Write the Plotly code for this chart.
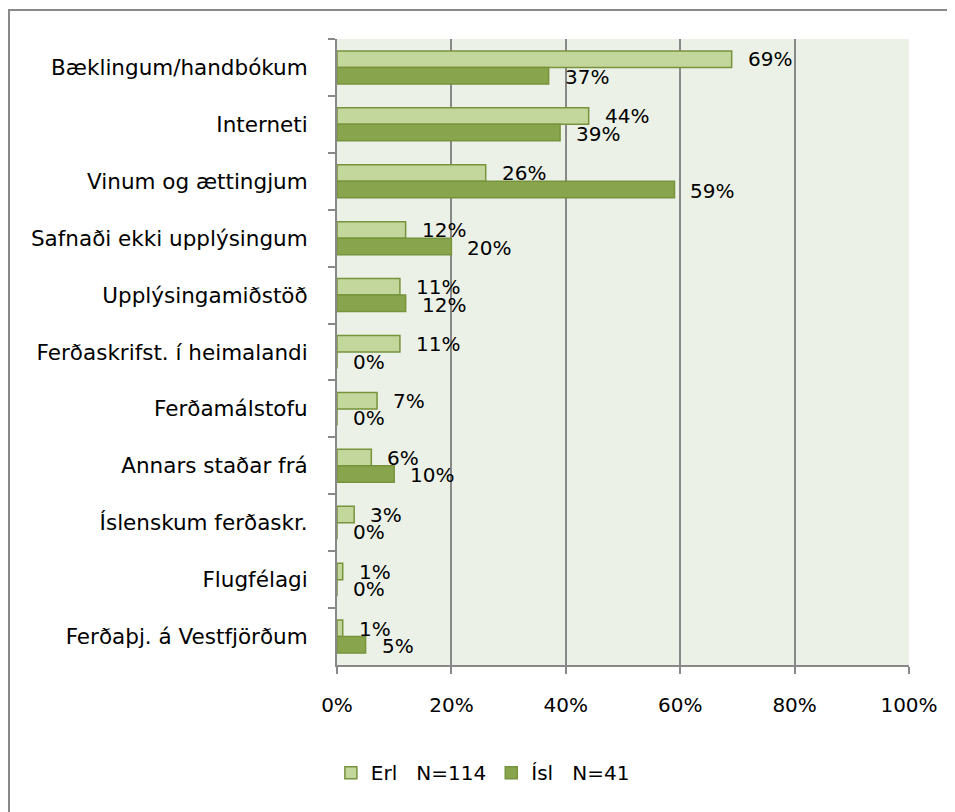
import plotly.graph_objects as go

categories = ["Bæklingum/handbókum", "Interneti", "Vinum og ættingjum",
              "Safnaði ekki upplýsingum", "Upplýsingamiðstöð",
              "Ferðaskrifst. í heimalandi", "Ferðamálstofu", "Annars staðar frá",
              "Íslenskum ferðaskr.", "Flugfélagi", "Ferðaþj. á Vestfjörðum"]
erl = [69, 44, 26, 12, 11, 11, 7, 6, 3, 1, 1]
isl = [37, 39, 59, 20, 12, 0, 0, 10, 0, 0, 5]
erl_name = "Erl\u00a0\u00a0\u00a0N=114"
isl_name = "Ísl\u00a0\u00a0\u00a0N=41"
x_ticks = [0, 0.2, 0.4, 0.6, 0.8, 1.0]

FONT = "'DejaVu Sans', sans-serif"
GRID = "#888888"

fig = go.Figure()
fig.add_trace(go.Bar(y=categories, x=[v / 100 for v in erl], orientation="h",
                     name=erl_name, marker=dict(color="#C3D69B",
                     line=dict(color="#77933C", width=1.5))))
fig.add_trace(go.Bar(y=categories, x=[v / 100 for v in isl], orientation="h",
                     name=isl_name, marker=dict(color="#88A44C",
                     line=dict(color="#77933C", width=1.5))))

annotations = []
for vals, shift in ((erl, 8), (isl, -9.5)):
    for c, v in zip(categories, vals):
        annotations.append(dict(x=v / 100, y=c, xref="x", yref="y",
                                text=f"{v}%", showarrow=False, xanchor="left",
                                yanchor="middle", xshift=14, yshift=shift,
                                font=dict(family=FONT, size=20, color="black")))

fig.update_layout(
    width=955, height=812,
    margin=dict(l=329, r=54, t=31, b=155),
    paper_bgcolor="white", plot_bgcolor="#EBF1E6",
    barmode="group", bargap=0.42, bargroupgap=0,
    font=dict(family=FONT, size=20, color="black"),
    annotations=annotations,
    showlegend=True,
    legend=dict(orientation="h", x=0.255, xanchor="center", y=-0.172,
                yanchor="middle", font=dict(family=FONT, size=20),
                traceorder="normal", itemwidth=30),
    shapes=[dict(type="rect", xref="paper", yref="paper",
                 x0=-0.5734, x1=1.2, y0=-0.3, y1=1.0463,
                 line=dict(color=GRID, width=2), fillcolor="rgba(0,0,0,0)",
                 layer="below")],
)
fig.update_xaxes(range=[0, 1], tickvals=x_ticks, tickformat=".0%",
                 showgrid=True, gridcolor=GRID, gridwidth=2,
                 showline=True, linecolor=GRID, linewidth=2,
                 ticks="outside", ticklen=7, tickcolor=GRID, tickwidth=2,
                 ticklabelstandoff=14, zeroline=False,
                 tickfont=dict(family=FONT, size=20))
fig.update_yaxes(autorange="reversed", showgrid=False,
                 showline=True, linecolor=GRID, linewidth=2,
                 ticks="outside", ticklen=7, tickcolor=GRID, tickwidth=2,
                 tickson="boundaries", ticklabelstandoff=23,
                 tickfont=dict(family=FONT, size=21.5))

fig.write_html("out.html")
